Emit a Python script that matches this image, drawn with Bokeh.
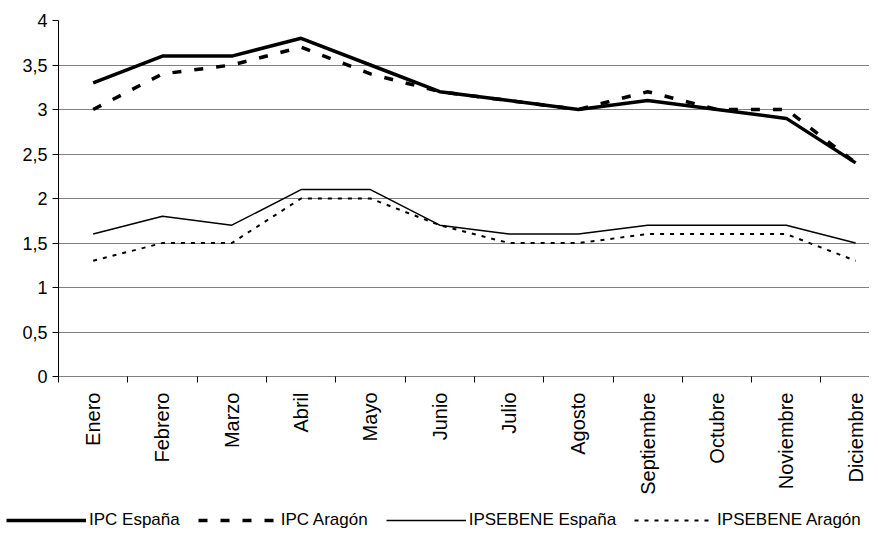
import math
from bokeh.plotting import figure
from bokeh.layouts import column
from bokeh.models import Range1d, FixedTicker, Legend, LegendItem
from bokeh.embed import file_html
from bokeh.resources import INLINE

# ---- data ----
months = ["Enero", "Febrero", "Marzo", "Abril", "Mayo", "Junio", "Julio",
          "Agosto", "Septiembre", "Octubre", "Noviembre", "Diciembre"]
ipc_espana = [3.3, 3.6, 3.6, 3.8, 3.5, 3.2, 3.1, 3.0, 3.1, 3.0, 2.9, 2.4]
ipc_aragon = [3.0, 3.4, 3.5, 3.7, 3.4, 3.2, 3.1, 3.0, 3.2, 3.0, 3.0, 2.4]
ipsebene_espana = [1.6, 1.8, 1.7, 2.1, 2.1, 1.7, 1.6, 1.6, 1.7, 1.7, 1.7, 1.5]
ipsebene_aragon = [1.3, 1.5, 1.5, 2.0, 2.0, 1.7, 1.5, 1.5, 1.6, 1.6, 1.6, 1.3]
series_names = ["IPC España", "IPC Aragón", "IPSEBENE España", "IPSEBENE Aragón"]
y_ticks = [0, 0.5, 1, 1.5, 2, 2.5, 3, 3.5, 4]
y_tick_labels = ["0", "0,5", "1", "1,5", "2", "2,5", "3", "3,5", "4"]

FONT = "Liberation Sans"

x_pos = [i + 1 for i in range(len(months))]
boundaries = [i + 0.5 for i in range(len(months) + 1)]
series = [ipc_espana, ipc_aragon, ipsebene_espana, ipsebene_aragon]
styles = [dict(line_width=3.5),
          dict(line_width=3.5, line_dash="9 13"),
          dict(line_width=1.5),
          dict(line_width=2, line_dash="4 6")]

p = figure(width=869, height=506, output_backend="svg", toolbar_location=None,
           x_range=Range1d(0.5, 12.2), y_range=Range1d(0, 4),
           min_border_left=58, min_border_right=0, min_border_top=20,
           min_border_bottom=130)
p.outline_line_color = None
p.background_fill_color = "white"
p.border_fill_color = "white"

# grid
p.xgrid.visible = False
p.ygrid.grid_line_color = "#808080"
p.ygrid.grid_line_width = 1

# y axis
p.yaxis.ticker = FixedTicker(ticks=y_ticks)
p.yaxis.major_label_overrides = {t: l for t, l in zip(y_ticks, y_tick_labels)}
p.yaxis.axis_line_color = "black"
p.yaxis.major_tick_line_color = "black"
p.yaxis.major_tick_out = 6
p.yaxis.major_tick_in = 0
p.yaxis.minor_tick_line_color = None
p.yaxis.major_label_standoff = 5
p.yaxis.major_label_text_font = FONT
p.yaxis.major_label_text_font_size = "18px"
p.yaxis.major_label_text_color = "black"

# x axis: labels at category centres, tick marks at category boundaries
p.xaxis.ticker = FixedTicker(ticks=x_pos, minor_ticks=boundaries)
p.xaxis.major_label_overrides = {x: m for x, m in zip(x_pos, months)}
p.xaxis.axis_line_color = "#808080"
p.xaxis.major_tick_line_color = None
p.xaxis.major_tick_out = 0
p.xaxis.major_tick_in = 0
p.xaxis.minor_tick_line_color = "black"
p.xaxis.minor_tick_out = 6
p.xaxis.minor_tick_in = 0
p.xaxis.major_label_orientation = math.pi / 2
p.xaxis.major_label_standoff = 10
p.xaxis.major_label_text_font = FONT
p.xaxis.major_label_text_font_size = "20px"
p.xaxis.major_label_text_color = "black"

# lines of the chart
for vals, st in zip(series, styles):
    p.line(x_pos, vals, line_color="black", **st)

# legend strip (separate figure below the chart; its lines lie outside its range,
# only their legend samples are shown)
lg = figure(width=869, height=24, output_backend="svg", toolbar_location=None,
            x_range=Range1d(0.5, 12.2), y_range=Range1d(10, 11),
            x_axis_type=None, y_axis_type=None,
            min_border_left=0, min_border_right=0, min_border_top=0, min_border_bottom=0)
lg.outline_line_color = None
lg.grid.visible = False
lg_renderers = [lg.line(x_pos, vals, line_color="black", **st)
                for vals, st in zip(series, styles)]

# do not align the legend strip's frame with the chart's frame
for fig in (p, lg):
    if "frame_align" in fig.properties():
        fig.frame_align = False

legend = Legend(items=[LegendItem(label=n, renderers=[r])
                       for n, r in zip(series_names, lg_renderers)],
                orientation="horizontal", location=(6, 0))
legend.label_text_font = FONT
legend.label_text_font_size = "17px"
legend.label_text_color = "black"
legend.glyph_width = 80
legend.glyph_height = 20
legend.label_height = 20
legend.label_standoff = 3
legend.spacing = 18
legend.padding = 0
legend.margin = 0
legend.border_line_color = None
legend.background_fill_alpha = 0
lg.add_layout(legend)

layout = column(p, lg, spacing=0)
open("out.html", "w").write(file_html(layout, INLINE))
